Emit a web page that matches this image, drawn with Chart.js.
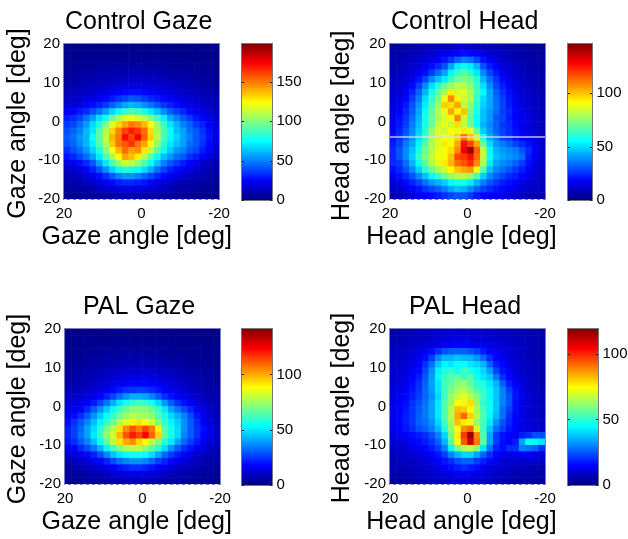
<!DOCTYPE html>
<html>
<head>
<meta charset="utf-8">
<title>Gaze and head angle histograms</title>
<script src="https://cdn.jsdelivr.net/npm/chart.js@4"></script>
<style>
body { margin: 0; background: #fff; width: 628px; height: 539px; overflow: hidden; position: relative; }
canvas { position: absolute; }
</style>
</head>
<body>
<canvas id="heat1"></canvas><canvas id="bar1"></canvas>
<canvas id="heat2"></canvas><canvas id="bar2"></canvas>
<canvas id="heat3"></canvas><canvas id="bar3"></canvas>
<canvas id="heat4"></canvas><canvas id="bar4"></canvas>
<script>
// Counts, rows top (+20) to bottom (-20), columns left (+20) to right (-20)
const controlGaze = [
[2,2,3,2,3,2,3,3,2,3,2,3,3,2,3,2,3,2,2,3,2,2,3,2],
[3,3,2,3,3,4,3,3,4,3,4,3,3,4,3,3,3,3,2,3,3,2,2,3],
[3,3,4,4,4,4,5,4,5,5,5,5,4,5,4,5,4,4,4,3,3,3,3,3],
[4,4,5,5,5,6,6,6,7,7,6,7,7,6,6,6,5,5,5,5,4,4,4,3],
[5,6,6,7,7,8,8,9,9,10,10,10,10,9,9,8,8,7,7,6,6,5,5,4],
[6,7,8,8,9,10,11,12,12,13,14,14,13,13,12,11,10,10,9,8,7,7,6,5],
[8,9,10,11,12,13,14,15,17,18,19,19,18,17,16,15,14,13,12,10,9,8,7,6],
[10,11,12,14,15,17,19,21,24,26,27,27,26,24,22,20,18,16,14,13,11,10,9,8],
[12,14,15,18,20,22,25,29,34,38,42,40,36,32,29,26,23,20,18,16,14,12,11,9],
[16,18,20,24,27,31,36,43,50,57,60,58,53,47,41,35,31,27,23,20,17,15,13,11],
[22,25,29,33,40,47,56,66,76,84,88,86,78,70,62,52,43,37,32,26,22,19,16,13],
[30,33,38,47,55,68,78,96,108,118,122,116,112,100,86,72,58,50,42,36,29,25,20,16],
[36,38,46,54,68,80,100,118,132,142,150,146,138,124,104,86,70,60,50,44,36,31,25,18],
[40,44,50,60,70,90,108,132,148,160,168,162,152,130,106,90,76,62,56,46,42,34,27,20],
[42,46,54,60,76,92,112,138,150,172,160,174,154,132,110,88,74,66,56,50,42,36,28,20],
[40,44,52,60,72,90,108,134,150,156,164,150,142,124,102,84,70,62,56,46,42,34,26,18],
[34,40,46,54,66,80,100,122,138,152,142,146,128,110,92,76,64,54,50,42,38,30,24,16],
[28,32,38,46,56,70,88,106,124,142,136,126,108,92,76,62,54,46,42,34,30,24,18,13],
[19,22,27,33,42,56,70,88,104,114,110,102,90,76,62,50,42,36,30,25,20,16,13,10],
[13,15,19,24,31,40,52,66,76,82,80,76,68,58,46,38,30,26,22,18,15,12,10,8],
[9,11,13,17,21,27,34,42,50,54,54,50,44,38,32,26,22,18,15,12,10,9,7,6],
[7,8,10,12,15,18,22,26,30,32,32,30,28,24,20,17,15,12,10,9,8,7,6,5],
[5,6,7,8,10,12,14,16,18,20,20,18,17,15,14,12,10,9,8,7,6,5,5,4],
[4,4,5,5,6,7,8,9,10,11,11,10,10,9,8,7,7,6,5,5,4,4,3,3]
];
const controlHead = [
[5,5,6,6,7,8,9,9,10,10,11,12,11,10,9,9,8,7,6,6,5,5,4,4],
[6,7,7,8,9,10,12,14,15,16,18,20,19,17,14,12,11,9,8,7,6,5,5,4],
[7,7,8,9,11,13,15,18,21,26,32,36,34,28,21,17,13,11,9,8,7,6,5,5],
[7,8,9,11,13,16,20,24,30,42,52,56,52,44,30,22,17,13,11,9,8,7,6,5],
[8,9,10,13,16,20,27,34,42,54,62,68,60,52,38,28,21,16,13,10,9,8,7,6],
[9,10,12,15,21,28,38,46,52,62,70,72,70,60,44,34,26,19,15,12,10,8,7,6],
[10,12,14,19,27,38,50,60,70,76,82,80,74,62,50,38,28,22,17,14,11,9,8,7],
[11,13,17,23,32,44,58,70,80,94,84,88,78,64,54,42,32,25,20,15,12,10,8,7],
[12,15,19,27,36,50,62,74,88,108,92,84,80,62,50,42,34,27,21,16,13,11,9,8],
[13,16,22,30,40,52,66,78,98,96,104,82,74,60,48,42,34,28,22,17,14,12,10,8],
[14,18,24,32,42,56,68,82,88,104,92,100,70,58,46,40,34,27,24,18,15,12,10,8],
[15,20,26,34,44,58,70,78,86,90,108,84,68,56,46,40,31,28,22,18,15,13,11,9],
[17,21,27,36,46,58,70,84,88,84,96,82,70,56,44,38,32,26,24,19,16,13,11,9],
[18,23,30,38,48,60,76,86,84,90,88,94,88,68,48,40,32,28,24,20,17,14,12,9],
[20,25,32,40,50,62,78,86,90,88,98,112,100,84,58,42,36,28,26,21,18,15,12,10],
[22,27,36,42,54,66,80,86,94,92,104,126,118,104,70,50,40,36,32,28,24,20,16,10],
[24,30,38,46,58,70,80,88,90,96,108,130,142,114,84,54,44,40,38,36,30,24,18,11],
[24,30,38,48,62,72,82,90,92,100,118,120,126,112,82,56,46,42,40,38,34,22,16,11],
[24,26,34,44,56,68,80,88,94,102,112,116,122,108,80,52,42,38,36,32,27,20,15,11],
[20,24,30,38,48,60,70,78,84,92,100,104,106,88,66,46,38,34,30,26,22,18,14,10],
[16,20,24,30,38,46,54,62,70,76,80,80,76,64,48,38,32,28,24,22,18,15,12,10],
[12,15,19,23,28,34,40,44,48,54,58,58,52,44,36,30,26,22,20,18,15,12,11,9],
[10,12,15,18,21,25,29,32,36,42,46,44,38,32,27,24,21,19,17,15,13,11,10,9],
[8,9,11,13,15,18,20,22,25,28,30,30,26,22,19,17,16,15,13,12,10,9,8,7]
];
const palGaze = [
[1,1,1,1,1,1,2,1,2,1,1,2,1,1,2,1,1,1,1,1,1,1,1,1],
[1,2,2,2,2,2,2,2,2,2,2,2,2,2,2,2,2,2,2,2,1,1,1,1],
[2,2,2,2,2,3,3,3,3,3,3,3,3,3,3,3,3,2,2,2,2,2,2,2],
[2,3,3,3,3,3,4,4,4,4,4,4,4,4,4,3,3,3,3,3,2,2,2,2],
[3,3,3,4,4,4,5,5,5,6,6,6,5,5,5,5,4,4,4,3,3,3,2,2],
[3,4,4,4,5,6,6,7,7,8,8,8,7,7,7,6,6,5,5,4,4,3,3,3],
[4,5,5,6,6,7,8,9,10,10,11,11,10,10,9,8,8,7,6,5,5,4,4,3],
[5,5,6,7,8,9,10,11,12,13,14,14,14,13,12,11,10,9,8,7,6,5,4,4],
[6,6,7,8,9,11,12,14,16,17,18,18,18,17,16,14,12,11,10,8,7,6,5,4],
[7,8,9,10,11,13,15,18,21,24,25,26,25,23,20,17,15,13,11,10,8,7,6,5],
[9,10,11,13,15,18,22,27,33,38,42,42,40,36,30,24,20,17,14,12,10,8,7,5],
[11,12,14,17,21,27,34,42,50,56,60,62,60,56,48,38,30,24,20,16,13,10,8,6],
[13,15,18,23,30,38,46,54,62,68,72,72,72,68,60,50,40,34,28,22,17,13,10,7],
[16,19,24,30,38,46,54,60,68,74,78,76,76,72,64,56,48,42,36,28,20,15,11,8],
[19,24,30,36,44,52,60,68,78,84,90,92,88,82,70,60,52,46,38,30,23,17,13,9],
[22,26,32,40,48,58,70,78,92,104,112,106,114,106,90,64,56,48,38,30,24,19,14,10],
[22,26,34,40,50,60,74,82,98,112,120,114,124,110,94,66,56,48,36,30,24,18,14,10],
[20,24,30,36,44,54,66,78,92,100,104,94,88,78,70,58,50,40,32,26,21,16,12,9],
[15,18,23,28,34,42,52,62,70,76,78,78,72,66,58,48,38,30,24,20,16,13,10,7],
[10,12,15,18,22,28,36,44,50,54,56,56,54,48,40,32,26,21,17,14,11,9,7,6],
[7,8,10,12,15,18,22,28,33,36,38,38,36,32,26,22,18,15,12,10,8,7,6,5],
[5,6,7,8,10,12,14,17,20,22,24,24,22,20,17,15,12,10,9,8,6,5,5,4],
[4,4,5,6,7,8,9,11,12,14,15,14,14,12,11,10,8,7,6,6,5,4,4,3],
[3,3,3,4,4,5,6,7,7,8,8,9,8,8,7,6,6,5,4,4,3,3,3,2]
];
const palHead = [
[5,5,6,6,7,7,8,8,8,9,9,9,9,8,8,8,7,7,6,6,6,5,5,4],
[6,6,7,7,8,8,9,10,10,11,11,11,11,10,10,9,9,8,8,7,7,6,5,5],
[7,7,8,8,9,10,11,12,14,14,15,15,14,13,13,12,11,10,9,8,8,7,6,5],
[7,8,9,10,11,13,16,20,24,26,26,26,24,22,18,15,13,11,10,9,8,7,6,5],
[8,9,10,11,13,16,22,31,36,36,38,36,36,32,27,20,15,13,11,9,8,7,6,6],
[8,9,10,12,15,20,28,38,44,42,46,46,42,40,36,26,18,15,12,10,9,8,7,6],
[9,10,11,13,16,23,32,43,48,50,46,52,48,44,40,33,23,17,14,11,9,8,7,6],
[9,10,12,15,18,25,33,44,52,54,56,52,54,46,42,38,29,20,15,12,10,8,7,6],
[10,11,13,16,20,26,34,42,52,56,60,62,56,50,48,42,36,26,18,14,11,9,7,6],
[11,12,14,17,21,27,33,42,52,58,64,66,60,54,50,44,38,30,22,16,12,9,8,7],
[11,13,15,18,22,27,32,40,52,62,68,72,66,60,52,44,38,30,24,17,13,10,8,7],
[12,14,16,20,24,28,34,42,54,62,74,72,78,62,50,46,38,30,24,16,12,10,8,7],
[12,14,17,21,25,29,34,42,54,66,82,80,74,64,52,46,38,28,22,16,12,10,8,7],
[13,15,18,21,26,29,34,42,54,66,84,92,80,66,54,44,36,28,20,15,12,10,9,7],
[13,15,18,21,26,28,32,40,52,64,82,76,72,62,52,42,32,24,19,14,12,10,9,8],
[13,14,17,20,24,26,30,36,48,62,74,88,92,70,52,38,28,22,17,14,12,11,10,9],
[11,13,14,16,18,20,24,30,40,58,76,98,116,88,54,34,22,17,15,14,18,20,24,24],
[10,11,12,14,16,18,21,26,36,54,74,94,110,90,56,34,22,16,14,18,34,46,44,42],
[8,9,10,12,13,15,18,22,30,44,58,66,68,60,42,28,19,16,20,20,30,28,26,20],
[7,8,9,10,11,12,14,17,22,30,36,40,40,34,26,20,15,12,12,13,14,14,12,10],
[6,7,8,8,9,10,12,14,17,20,24,26,26,22,18,15,12,10,9,9,9,9,9,8],
[6,6,7,7,8,9,10,12,14,16,18,20,18,16,13,11,10,9,8,8,7,7,6,6],
[5,5,6,6,7,8,9,10,11,12,14,14,13,12,11,10,8,8,7,6,6,6,5,5],
[4,4,5,5,6,7,8,8,9,10,10,10,10,9,9,8,7,7,6,5,5,5,4,4]
];

// Axis ticks
const angleTicksY = [20, 10, 0, -10, -20];
const angleTicksX = [20, 0, -20];
const controlGazeBarTicks = [0, 50, 100, 150];
const controlHeadBarTicks = [0, 50, 100];
const palGazeBarTicks = [0, 50, 100];
const palHeadBarTicks = [0, 50, 100];

// Colorbar tops
const controlGazeMax = 198;
const controlHeadMax = 146;
const palGazeMax = 141;
const palHeadMax = 119;

// Pale row across the Control Head panel
const controlHeadSeamX = [20, -20];
const controlHeadSeamY = [-4, -4];

const FONT = '"Liberation Sans", Arial, sans-serif';
const INK = '#000';
const LABEL_SIZE = 25;

function clamp01(v) {
    return Math.min(1, Math.max(0, v));
}

// Matlab jet
function jet(t) {
    const r = clamp01(1.5 - Math.abs(4 * t - 3));
    const g = clamp01(1.5 - Math.abs(4 * t - 2));
    const b = clamp01(1.5 - Math.abs(4 * t - 1));
    return 'rgb(' + Math.round(r * 255) + ',' + Math.round(g * 255) + ',' + Math.round(b * 255) + ')';
}

// Frame round the plot, dashed bottom edge on the heat maps
const framePlugin = {
    id: 'frame',
    afterDraw(chart, args, opts) {
        const a = chart.chartArea;
        const ctx = chart.ctx;
        ctx.save();
        ctx.lineWidth = 1;
        ctx.strokeStyle = opts.color;
        ctx.strokeRect(a.left - 0.5, a.top - 0.5, a.width + 1, a.height + 1);
        if (opts.dashed) {
            ctx.strokeStyle = '#e4e4f4';
            ctx.setLineDash([3, 3]);
            ctx.beginPath();
            ctx.moveTo(a.left, a.bottom + 0.5);
            ctx.lineTo(a.right, a.bottom + 0.5);
            ctx.stroke();
        }
        if (opts.barTicks) {
            ctx.strokeStyle = '#222';
            opts.barTicks.forEach(function (v) {
                const y = Math.round(chart.scales.y.getPixelForValue(v)) + 0.5;
                ctx.beginPath();
                ctx.moveTo(a.left, y);
                ctx.lineTo(a.left + 2, y);
                ctx.moveTo(a.right - 2, y);
                ctx.lineTo(a.right, y);
                ctx.stroke();
            });
        }
        ctx.restore();
    }
};

// Scale titles get squeezed to the plot width by Chart.js and these are wider than the plot,
// the panel title sits a little left of the plot centre so it goes here too
const panelTextPlugin = {
    id: 'panelText',
    afterDraw(chart, args, opts) {
        const ctx = chart.ctx;
        ctx.save();
        ctx.fillStyle = INK;
        ctx.font = LABEL_SIZE + 'px ' + FONT;
        ctx.textAlign = 'center';
        ctx.textBaseline = 'middle';
        ctx.fillText(opts.title, opts.titleX, 21.7);
        ctx.fillText(opts.label, opts.xLabelX, 237);
        ctx.translate(18, opts.yLabelY);
        ctx.rotate(-Math.PI / 2);
        ctx.fillText(opts.label, 0, 0);
        ctx.restore();
    }
};

function setTicks(values) {
    return function (axis) {
        axis.ticks = values.map(function (v) { return { value: v }; });
    };
}

function placeCanvas(canvas, left, top, width, height) {
    canvas.width = width;
    canvas.height = height;
    canvas.style.left = left + 'px';
    canvas.style.top = top + 'px';
    canvas.style.width = width + 'px';
    canvas.style.height = height + 'px';
}

function drawHeat(id, box, title, axisLabel, rows, max, seam) {
    const canvas = document.getElementById(id);
    placeCanvas(canvas, box.left, box.top, 240, 256);
    const cell = 40 / rows.length;
    const points = [];
    rows.forEach(function (row, r) {
        row.forEach(function (v, c) {
            points.push({ x: 20 - (c + 0.5) * cell, y: 20 - (r + 0.5) * cell, v: v });
        });
    });
    const datasets = [{
        data: points,
        order: 1,
        clip: 0,
        pointStyle: 'rect',
        pointBorderWidth: 0,
        pointRadius: function (ctx) {
            // chartArea is not there yet on the first resolve
            const a = ctx.chart.chartArea;
            return a ? (a.width / rows.length + 0.6) / Math.SQRT2 : 3;
        },
        pointBackgroundColor: function (ctx) {
            return ctx.raw ? jet(ctx.raw.v / max) : '#000';
        }
    }];
    if (seam) {
        datasets.push({
            data: seam.x.map(function (x, i) { return { x: x, y: seam.y[i] }; }),
            order: 0,
            showLine: true,
            pointRadius: 0,
            borderWidth: 1.5,
            borderColor: 'rgba(222,222,240,0.85)'
        });
    }
    new Chart(canvas, {
        type: 'scatter',
        data: { datasets: datasets },
        plugins: [framePlugin, panelTextPlugin],
        options: {
            responsive: false,
            animation: false,
            events: [],
            layout: { padding: { left: 0, right: 240 - box.axisWidth - 155, top: 44, bottom: 0 } },
            plugins: {
                legend: { display: false },
                tooltip: { enabled: false },
                frame: { color: '#7c7cc4', dashed: true },
                panelText: { title: title, titleX: box.titleX, label: axisLabel, xLabelX: box.xLabelX, yLabelY: box.yLabelY }
            },
            scales: {
                x: {
                    type: 'linear',
                    reverse: true,
                    min: -20,
                    max: 20,
                    afterFit: function (s) { s.height = 57; },
                    afterBuildTicks: setTicks(angleTicksX),
                    grid: { display: false, drawTicks: false },
                    border: { display: false },
                    ticks: { color: INK, font: { family: FONT, size: 15 }, padding: 6, autoSkip: false, maxRotation: 0 }
                },
                y: {
                    type: 'linear',
                    min: -20,
                    max: 20,
                    afterFit: function (s) { s.width = box.axisWidth; },
                    afterBuildTicks: setTicks(angleTicksY),
                    grid: { display: false, drawTicks: false },
                    border: { display: false },
                    ticks: { color: INK, font: { family: FONT, size: 15 }, padding: 4, autoSkip: false }
                }
            }
        }
    });
}

function drawBar(id, box, max, barTicks) {
    const canvas = document.getElementById(id);
    placeCanvas(canvas, box.left, box.top, box.width + 48, 220);
    new Chart(canvas, {
        type: 'bar',
        data: {
            labels: [''],
            datasets: [{
                data: [[0, max]],
                barPercentage: 1,
                categoryPercentage: 1,
                backgroundColor: function (ctx) {
                    const a = ctx.chart.chartArea;
                    if (!a) {
                        return '#00f';
                    }
                    const g = ctx.chart.ctx.createLinearGradient(0, a.bottom, 0, a.top);
                    for (let i = 0; i <= 8; i++) {
                        g.addColorStop(i / 8, jet(i / 8));
                    }
                    return g;
                }
            }]
        },
        plugins: [framePlugin],
        options: {
            responsive: false,
            animation: false,
            events: [],
            layout: { padding: { left: 1, right: 0, top: 44, bottom: 20 } },
            plugins: {
                legend: { display: false },
                tooltip: { enabled: false },
                frame: { color: '#777', barTicks: barTicks }
            },
            scales: {
                x: { display: false },
                y: {
                    position: 'right',
                    min: 0,
                    max: max,
                    afterFit: function (s) { s.width = 47; },
                    afterBuildTicks: setTicks(barTicks),
                    grid: { display: false, drawTicks: false },
                    border: { display: false },
                    ticks: { color: INK, font: { family: FONT, size: 15 }, padding: 4.5, autoSkip: false }
                }
            }
        }
    });
}

drawHeat('heat1', { left: 0, top: 0, axisWidth: 64, titleX: 138.7, xLabelX: 136.7, yLabelY: 123.5 }, 'Control Gaze', 'Gaze angle [deg]', controlGaze, controlGazeMax);
drawBar('bar1', { left: 241, top: 0, width: 30 }, controlGazeMax, controlGazeBarTicks);

drawHeat('heat2', { left: 324, top: 0, axisWidth: 66, titleX: 140.7, xLabelX: 137.5, yLabelY: 125.8 }, 'Control Head', 'Head angle [deg]', controlHead, controlHeadMax, { x: controlHeadSeamX, y: controlHeadSeamY });
drawBar('bar2', { left: 567, top: 0, width: 24 }, controlHeadMax, controlHeadBarTicks);

drawHeat('heat3', { left: 0, top: 285, axisWidth: 65, titleX: 139, xLabelX: 136.7, yLabelY: 124 }, 'PAL Gaze', 'Gaze angle [deg]', palGaze, palGazeMax);
drawBar('bar3', { left: 241, top: 285, width: 30 }, palGazeMax, palGazeBarTicks);

drawHeat('heat4', { left: 324, top: 285, axisWidth: 66, titleX: 141, xLabelX: 137.5, yLabelY: 123 }, 'PAL Head', 'Head angle [deg]', palHead, palHeadMax);
drawBar('bar4', { left: 567, top: 285, width: 30 }, palHeadMax, palHeadBarTicks);
</script>
</body>
</html>
